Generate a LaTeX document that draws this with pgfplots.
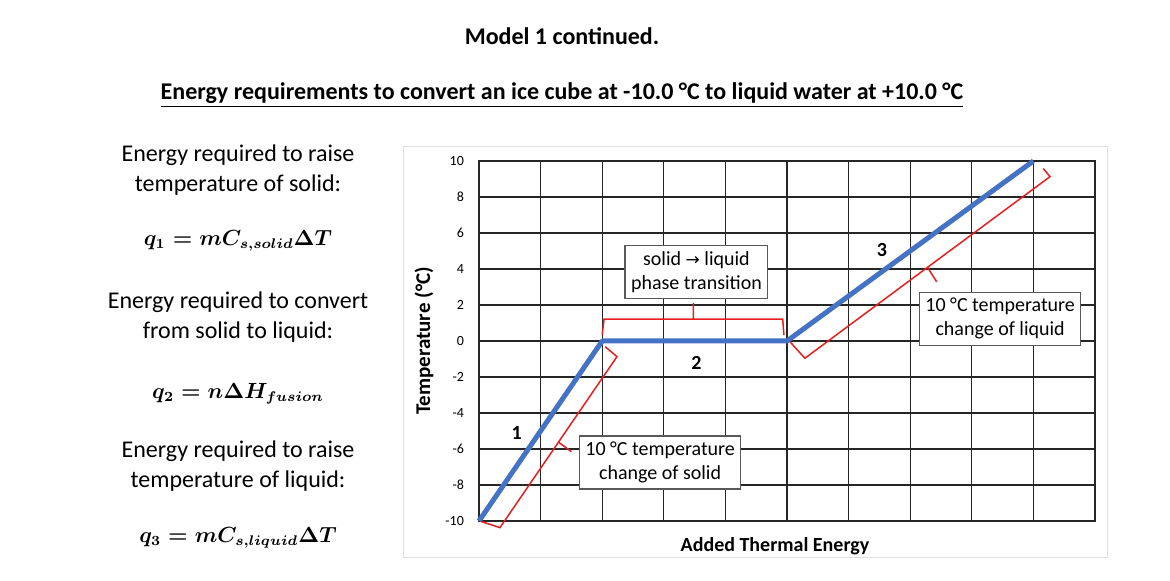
\documentclass[border=0pt]{standalone}
\usepackage{pgfplots}
\pgfplotsset{compat=1.18}
\usepackage{fontspec}
\setmainfont{Carlito}
\newfontfamily\dejavu{DejaVu Sans}
\definecolor{lineblue}{RGB}{68,114,196}
\definecolor{bracketred}{RGB}{232,30,30}
\definecolor{framegray}{RGB}{222,222,222}
\newcommand{\eqa}{\ensuremath{q_1 = mC_{s,solid}\Delta T}}
\newcommand{\eqb}{\ensuremath{q_2 = n\Delta H_{fusion}}}
\newcommand{\eqc}{\ensuremath{q_3 = mC_{s,liquid}\Delta T}}

\begin{document}
\begin{tikzpicture}
\begin{axis}[
    at={(0,0)}, anchor=south west,
    scale only axis,
    width=308pt, height=180pt,
    xmin=0, xmax=10, ymin=-10, ymax=10,
    xtick={0,...,10}, xticklabels={},
    ytick={-10,-8,...,10},
    grid=major,
    grid style={black!85, line width=0.65pt},
    axis line style={black!85, line width=0.65pt},
    major tick length=0pt,
    yticklabel style={font=\fontsize{7}{8}\selectfont, xshift=-4pt},
    /pgf/number format/assume math mode=true,
    clip=false,
]
% heating curve
\addplot[lineblue, line width=2.5pt, line join=round] coordinates {(0,-10) (2,0) (5,0) (9,10)};
% brackets
\addplot[bracketred, line width=0.75pt] coordinates {
    (0.03,-10.02) (0.34,-10.37) (1.29,-5.62) (1.50,-6.15) (1.29,-5.62) (2.24,-0.87) (2.05,-0.32)};
\addplot[bracketred, line width=0.75pt] coordinates {
    (2.00,0.33) (2.03,1.22) (3.48,1.22) (3.48,2.10) (3.48,1.22) (4.93,1.22) (4.95,0.33)};
\addplot[bracketred, line width=0.75pt] coordinates {
    (5.05,-0.05) (5.29,-0.96) (7.28,4.09) (7.43,3.29) (7.28,4.09) (9.27,9.13) (9.16,9.58)};
% labels
\node[draw=black!65, fill=white, align=center, inner sep=3pt, line width=0.6pt,
      font=\fontsize{10}{12}\selectfont] at (axis cs:3.53,3.85)
      {solid {\dejavu\fontsize{8.5}{10}\selectfont →} liquid\\phase transition};
\node[draw=black!65, fill=white, align=center, inner sep=3pt, line width=0.6pt,
      font=\fontsize{10}{12}\selectfont] at (axis cs:2.94,-6.75)
      {10 °C temperature\\change of solid};
\node[draw=black!65, fill=white, align=center, inner sep=3pt, line width=0.6pt,
      font=\fontsize{10}{12}\selectfont] at (axis cs:8.46,1.24)
      {10 °C temperature\\change of liquid};
\node[font=\bfseries\fontsize{10}{11}\selectfont] at (axis cs:0.61,-5.13) {1};
\node[font=\bfseries\fontsize{10}{11}\selectfont] at (axis cs:3.53,-1.24) {2};
\node[font=\bfseries\fontsize{10}{11}\selectfont] at (axis cs:6.54,5.06) {3};
\end{axis}

\begin{scope}[x=0.5pt, y=-0.5pt, shift={(-239.5pt,260.5pt)}]
\useasboundingbox (0,0) rectangle (1170,581);
\draw[framegray, line width=0.5pt] (403,147) rectangle (1107,558);
\node[font=\bfseries\fontsize{12}{14}\selectfont] at (562,36) {Model 1 continued.};
\node[font=\bfseries\fontsize{12}{14}\selectfont] at (562,95)
    {\underline{Energy requirements to convert an ice cube at -10.0 °C to liquid water at +10.0 °C}};
\node[rotate=90, font=\bfseries\fontsize{10.5}{12}\selectfont] at (424,341) {Temperature (°C)};
\node[font=\bfseries\fontsize{10}{12}\selectfont] at (775,546) {Added Thermal Energy};
% left column
\node[align=center, font=\fontsize{12}{15}\selectfont] at (238,170)
    {Energy required to raise\\temperature of solid:};
\node[font=\boldmath\fontsize{10.5}{13}\selectfont] at (238,241) {\eqa};
\node[align=center, font=\fontsize{12}{15}\selectfont] at (238,317)
    {Energy required to convert\\from solid to liquid:};
\node[font=\boldmath\fontsize{10.5}{13}\selectfont] at (238,394) {\eqb};
\node[align=center, font=\fontsize{12}{15}\selectfont] at (238,466)
    {Energy required to raise\\temperature of liquid:};
\node[font=\boldmath\fontsize{10.5}{13}\selectfont] at (238,538) {\eqc};
\end{scope}
\end{tikzpicture}
\end{document}
